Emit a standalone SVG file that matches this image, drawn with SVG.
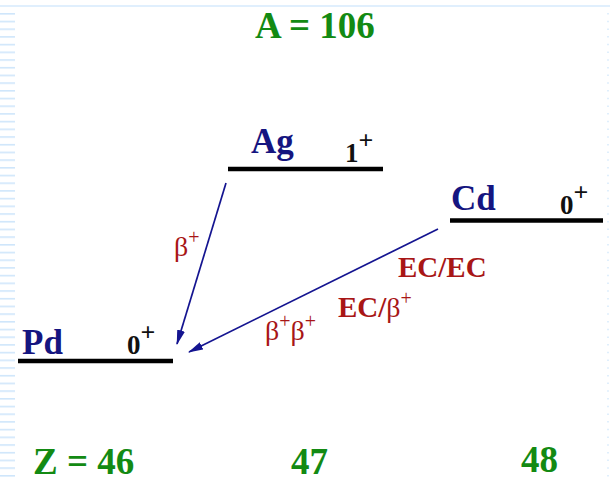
<svg xmlns="http://www.w3.org/2000/svg" width="610" height="481" viewBox="0 0 610 481">
<defs>
<style>
.g{fill:#138a13;font-family:"Liberation Serif",serif;font-weight:bold}
.n{fill:#151580;font-family:"Liberation Serif",serif;font-weight:bold;font-size:35px}
.s{fill:#111;font-family:"Liberation Serif",serif;font-weight:bold;font-size:27px}
.r{fill:#a81616;font-family:"Liberation Serif",serif;font-size:28px}
.rb{fill:#a81616;font-family:"Liberation Serif",serif;font-weight:bold;font-size:29px}
.lvl{stroke:#000;stroke-width:4.5}
.arr{stroke:#141490;stroke-width:1.7;fill:none;marker-end:url(#ah)}
</style>
<marker id="ah" viewBox="0 0 15 8" refX="14" refY="4" markerWidth="15" markerHeight="8" markerUnits="userSpaceOnUse" orient="auto">
<path d="M0,0 L15,4 L0,8 Z" fill="#141490"/>
</marker>
<pattern id="dash" width="16" height="7.7" patternUnits="userSpaceOnUse" y="13">
<rect x="0" y="0" width="15" height="1.6" fill="#cfe6fb"/>
</pattern>
</defs>
<rect width="610" height="481" fill="#fff"/>
<line x1="0" y1="6" x2="610" y2="6" stroke="#d6eafc" stroke-width="1.5"/>
<rect x="0" y="13" width="16" height="468" fill="url(#dash)"/>
<line x1="608" y1="13" x2="608" y2="481" stroke="#d6eafc" stroke-width="1.5" stroke-dasharray="1.5 6.2"/>

<text class="g" x="255" y="38" font-size="37">A = 106</text>

<g id="ag">
<line class="lvl" x1="228" y1="169" x2="383" y2="169"/>
<text class="n" x="251" y="153">Ag</text>
<text class="s" x="345" y="162">1<tspan font-size="26" dy="-13">+</tspan></text>
</g>
<g id="cd">
<line class="lvl" x1="450" y1="220.5" x2="603" y2="220.5"/>
<text class="n" x="451" y="210">Cd</text>
<text class="s" x="560" y="214">0<tspan font-size="26" dy="-13">+</tspan></text>
</g>
<g id="pd">
<line class="lvl" x1="18" y1="361" x2="173" y2="361"/>
<text class="n" x="22" y="354">Pd</text>
<text class="s" x="127" y="354">0<tspan font-size="26" dy="-13">+</tspan></text>
</g>

<g id="connectors">
<line class="arr" x1="226" y1="183" x2="177" y2="344"/>
<line class="arr" x1="438" y1="229" x2="189" y2="352"/>
</g>

<text class="r" x="174" y="256">β<tspan font-size="20" dy="-12">+</tspan></text>
<text class="rb" x="398" y="277">EC/EC</text>
<text class="rb" x="338" y="317">EC/<tspan font-weight="normal" font-size="28">β</tspan><tspan font-weight="normal" font-size="20" dy="-12">+</tspan></text>
<text class="r" x="265" y="340">β<tspan font-size="20" dy="-12">+</tspan><tspan dy="12">β</tspan><tspan font-size="20" dy="-12">+</tspan></text>

<text class="g" x="33" y="474" font-size="37">Z = 46</text>
<text class="g" x="291" y="474" font-size="37">47</text>
<text class="g" x="521" y="472" font-size="37">48</text>
</svg>
